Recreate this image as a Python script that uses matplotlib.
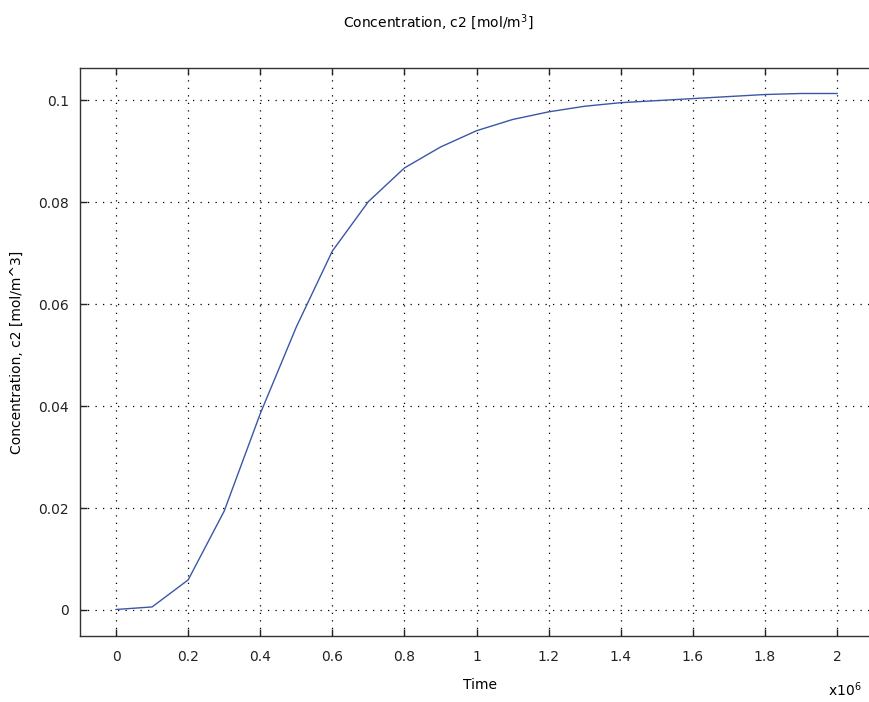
import matplotlib
matplotlib.use("Agg")
import matplotlib.pyplot as plt
from matplotlib.ticker import FuncFormatter

time_s = [0, 1e5, 2e5, 3e5, 4e5, 5e5, 6e5, 7e5, 8e5, 9e5, 1.0e6,
          1.1e6, 1.2e6, 1.3e6, 1.4e6, 1.5e6, 1.6e6, 1.7e6, 1.8e6, 1.9e6, 2.0e6]
c2 = [0.0001, 0.0006, 0.0059, 0.0194, 0.0385, 0.0555, 0.0704, 0.0801, 0.0867,
      0.0908, 0.0940, 0.0962, 0.0977, 0.0988, 0.0995, 0.0999, 0.1003, 0.1007,
      0.1011, 0.1013, 0.1013]
x_ticks = [0, 0.2e6, 0.4e6, 0.6e6, 0.8e6, 1.0e6, 1.2e6, 1.4e6, 1.6e6, 1.8e6, 2.0e6]
y_ticks = [0, 0.02, 0.04, 0.06, 0.08, 0.1]

plt.rcParams['font.family'] = ['DejaVu Sans']
fig = plt.figure(figsize=(8.69, 7.02), dpi=100)
ax = fig.add_axes([80/869, 66/702, 800/869, (636-68)/702])

ax.plot(time_s, c2, color='#3b56a6', linewidth=1.0)

ax.set_xlim(-0.1e6, -0.1e6 + 800 / 360.5 * 1e6)
ax.set_ylim(-0.0051, 0.1063)
ax.set_xticks(x_ticks)
ax.set_yticks(y_ticks)
ax.xaxis.set_major_formatter(FuncFormatter(lambda v, p: ('%g' % (v/1e6))))
ax.yaxis.set_major_formatter(FuncFormatter(lambda v, p: ('%g' % v)))
ax.tick_params(direction='in', length=5, width=1, top=True, right=True,
               labelsize=10, pad=8, colors='#222222')
ax.tick_params(axis='x', pad=10)
for s in ax.spines.values():
    s.set_linewidth(1.0)
    s.set_color('#333333')

ax.grid(True, color='black', linestyle=(0, (1, 5)), linewidth=0.9)

ax.set_xlabel('Time', fontsize=10, labelpad=10)
ax.set_ylabel('Concentration, c2 [mol/m^3]', fontsize=10, labelpad=10)
fig.text(438/869, 1 - 22/702, 'Concentration, c2 [mol/m$^3$]', ha='center',
         va='center', fontsize=10)
fig.text(845/869, 1 - 690/702, 'x10$^6$', ha='center', va='center', fontsize=10)

fig.savefig('out.png', dpi=100)
